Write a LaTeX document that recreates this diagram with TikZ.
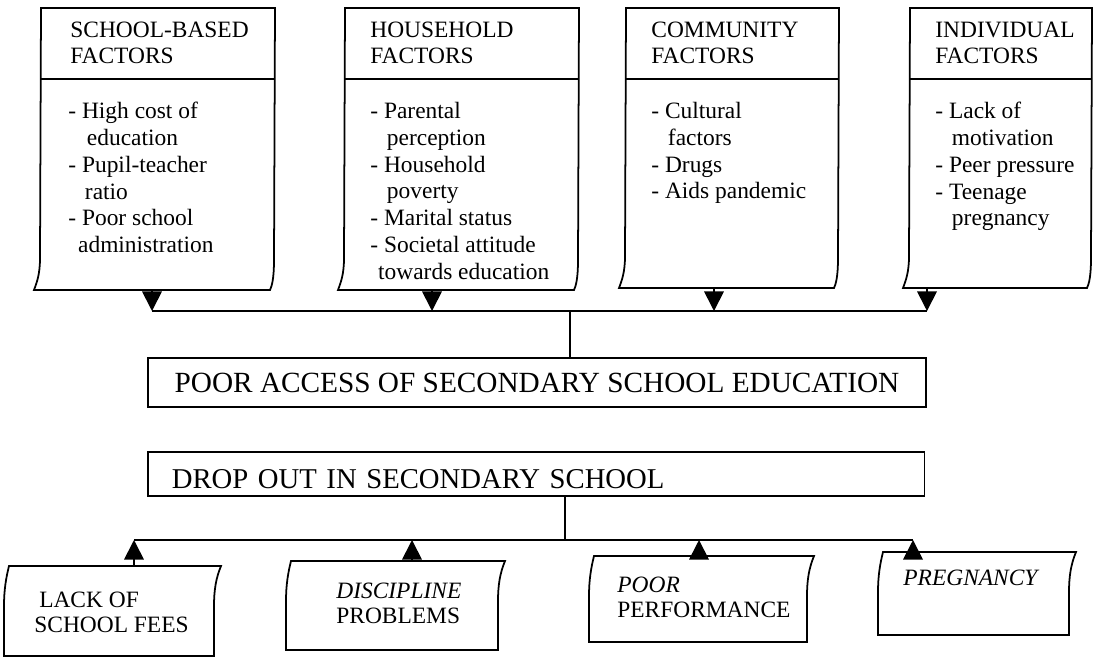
\documentclass[tikz,border=0pt]{standalone}
\usepackage{fontspec}
\setmainfont{Liberation Serif}
\usetikzlibrary{arrows.meta}

\newcommand{\contline}{\hspace*{8.5pt}}

\tikzset{
  pageline/.style={line width=0.9pt},
  head/.style={anchor=north west, inner sep=0pt, align=left, font=\fontsize{12}{13.3}\selectfont},
  list/.style={anchor=north west, inner sep=0pt, align=left, font=\fontsize{12}{13.7}\selectfont},
  effect/.style={anchor=north west, inner sep=0pt, align=left, font=\fontsize{12}{12.8}\selectfont},
  banner/.style={draw, line width=0.9pt, inner sep=0pt, font=\fontsize{15}{18}\selectfont},
  flow/.style={line width=0.9pt, -{Triangle[length=10pt,width=10pt]}},
  bus/.style={line width=0.9pt},
}

\begin{document}
\begin{tikzpicture}[x=0.018cm, y=-0.018cm]
\useasboundingbox[fill=white] (0,0) rectangle (1096,659);

% factor boxes along the top
\foreach \xl/\xr/\yb/\ax/\nm in {41/275/290/152/school, 345/579/290/432/house, 626/839/288/714/commun, 910/1092/288/927/indiv}{
  \draw[pageline] (\xl,8) -- (\xr,8) -- (\xr-1,\yb-30) .. controls (\xr-1,\yb-12) and (\xr-3,\yb-4) .. (\xr-5,\yb)
    -- (\xl-7,\yb) .. controls (\xl-4,\yb-8) and (\xl-1,\yb-16) .. (\xl-1,\yb-32) -- cycle;
  \draw[pageline] (\xl,79) -- (\xr,79);
  \coordinate (\nm) at (\ax,\yb);
}

\node[head] (schoolH) at (70,22) {SCHOOL-BASED\\FACTORS};
\node[head] (houseH) at (370,22) {HOUSEHOLD\\FACTORS};
\node[head] (communH) at (651,22) {COMMUNITY\\FACTORS};
\node[head] (indivH) at (935,22) {INDIVIDUAL\\FACTORS};

\node[list] (schoolL) at (68,102) {- High cost of\\ \hspace*{9.5pt}education\\ - Pupil-teacher\\ \contline ratio\\ - Poor school\\ \hspace*{5pt}administration};
\node[list] (houseL) at (370,102) {- Parental\\ \contline perception\\ - Household\\ \contline poverty\\ - Marital status\\ - Societal attitude\\ \hspace*{4pt}towards education};
\node[list] (communL) at (651,102) {- Cultural\\ \contline factors\\ - Drugs\\ - Aids pandemic};
\node[list] (indivL) at (935,102) {- Lack of\\ \contline motivation\\ - Peer pressure\\ - Teenage\\ \contline pregnancy};

% top bus into the main problem
\coordinate (topbus) at (570,311);
\foreach \nm in {school, house, commun, indiv}
  \draw[flow] (\nm) -- (\nm |- topbus);
\draw[bus] (school |- topbus) -- (indiv |- topbus);

\node[banner, minimum width=14cm, minimum height=0.88cm] (access) at (537,382.5) {POOR ACCESS OF SECONDARY SCHOOL EDUCATION};
\draw[bus] (topbus) -- (access.north -| topbus);

\node[banner, anchor=north west, align=left, text width=13.12cm, inner xsep=0.432cm, text height=0.666cm, text depth=0.126cm, font=\fontsize{14.7}{18}\selectfont] (dropout) at (147,451) {DROP OUT IN SECONDARY SCHOOL};

% consequences along the bottom
\foreach \xl/\xr/\yt/\yb/\ax/\nm in {9/221/566/656/134/fees, 291/505/561/650/412/discip, 594/814/556/642/699/perform, 883/1076/552/635/913/pregn}{
  \draw[pageline] (\xl,\yt) -- (\xr,\yt) .. controls (\xr-5,\yt+12) and (\xr-7,\yt+24) .. (\xr-7,\yt+40)
    -- (\xr-7,\yb) -- (\xl-5,\yb) -- (\xl-5,\yt+40) .. controls (\xl-5,\yt+24) and (\xl-3,\yt+12) .. (\xl,\yt) -- cycle;
  \coordinate (\nm) at (\ax,\yt);
}

\node[effect] (feesT) at (34,591.5) {\hspace*{2.5pt}LACK OF\\SCHOOL FEES};
\node[effect] (discipT) at (336,582.5) {\textit{DISCIPLINE}\\PROBLEMS};
\node[effect] (performT) at (617,576.5) {\textit{POOR}\\PERFORMANCE};
\node[effect] (pregnT) at (903,569.5) {\textit{PREGNANCY}};

\coordinate (lowbus) at (565,540);
\draw[bus] (dropout.south -| lowbus) -- (lowbus);
\draw[bus] (fees |- lowbus) -- (pregn |- lowbus);
\foreach \nm in {fees, discip, perform, pregn}
  \draw[flow] (\nm) -- (\nm |- lowbus);

\end{tikzpicture}
\end{document}
